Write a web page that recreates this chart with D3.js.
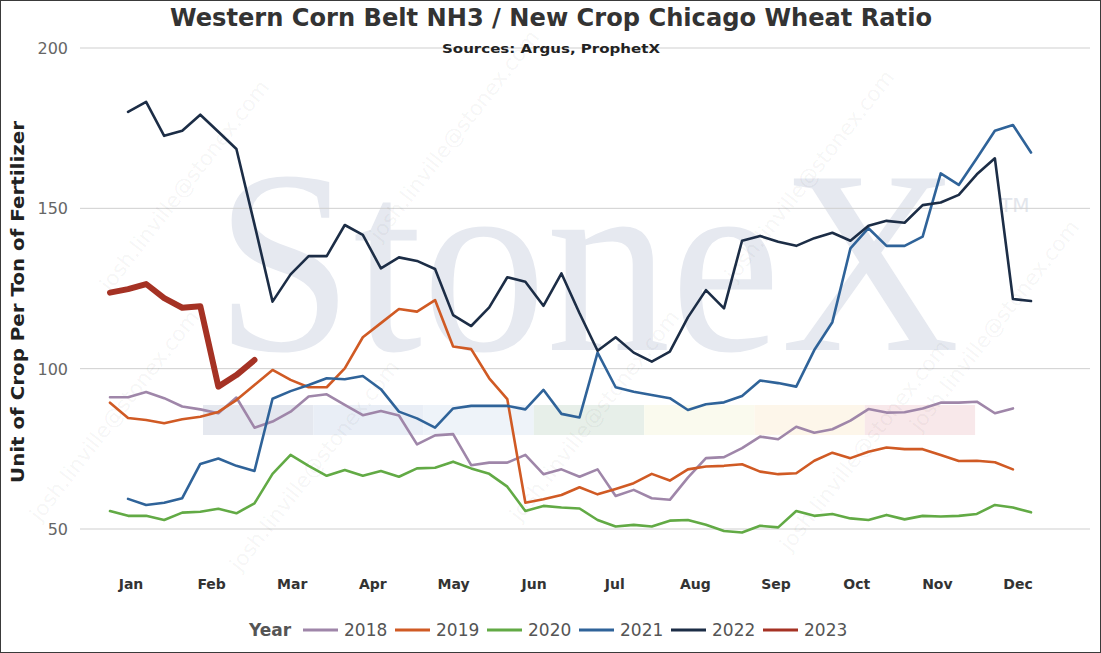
<!DOCTYPE html>
<html lang="en">
<head>
<meta charset="UTF-8">
<title>Western Corn Belt NH3 / New Crop Chicago Wheat Ratio</title>
<script src="https://d3js.org/d3.v7.min.js"></script>
<style>
  body { margin: 0; background: #fff; }
  svg { display: block; font-family: "DejaVu Sans", Verdana, sans-serif; }
</style>
</head>
<body>
<div id="chart"></div>
<script>
// axis labels
const months = ["Jan", "Feb", "Mar", "Apr", "May", "Jun", "Jul", "Aug", "Sep", "Oct", "Nov", "Dec"];
const yTicks = [50, 100, 150, 200];
const years = ["2018", "2019", "2020", "2021", "2022", "2023"];

// weekly ratio, one value per week; firstWeek says which week the array starts on
const firstWeek = [0, 0, 0, 1, 1, 0];
const v2018 = [91.1, 91.1, 92.7, 90.8, 88.2, 87.3, 86.1, 91.0, 81.6, 83.5,
  86.6, 91.3, 92.0, 88.7, 85.5, 86.8, 85.4, 76.4, 79.2, 79.6,
  69.9, 70.7, 70.7, 73.1, 67.1, 68.6, 66.3, 68.6, 60.3, 62.2,
  59.6, 59.1, 66.0, 72.1, 72.4, 75.2, 78.8, 78.0, 81.9, 80.0,
  81.1, 83.8, 87.4, 86.3, 86.4, 87.6, 89.4, 89.4, 89.7, 86.1, 87.6];
const v2019 = [89.4, 84.6, 84.0, 83.0, 84.2, 85.0, 86.5, 90.2, 94.9, 99.6,
  96.5, 94.2, 94.2, 100.1, 109.8, 114.2, 118.6, 117.8, 121.4, 106.9,
  106.1, 97.0, 90.5, 58.2, 59.3, 60.6, 63.0, 60.8, 62.5, 64.3,
  67.2, 65.1, 68.6, 69.5, 69.7, 70.2, 67.9, 67.1, 67.4, 71.3,
  73.8, 72.1, 74.1, 75.4, 74.9, 74.9, 73.1, 71.2, 71.3, 70.8, 68.6];
const v2020 = [55.6, 54.1, 54.1, 52.8, 55.1, 55.4, 56.3, 54.9, 58.0, 67.2,
  73.1, 69.7, 66.6, 68.4, 66.6, 68.1, 66.3, 68.9, 69.1, 71.0,
  68.9, 67.2, 63.2, 55.6, 57.2, 56.7, 56.4, 52.8, 50.8, 51.3,
  50.8, 52.6, 52.8, 51.3, 49.4, 48.9, 51.0, 50.5, 55.6, 54.1,
  54.7, 53.3, 52.8, 54.4, 53.0, 54.1, 53.9, 54.1, 54.7, 57.5, 56.7, 55.2];
const v2021 = [59.4, 57.5, 58.2, 59.6, 70.3, 72.0, 69.7, 68.1, 90.6, 93.0,
  94.9, 97.0, 96.7, 97.7, 93.6, 86.6, 84.5, 81.6, 87.6, 88.4,
  88.4, 88.4, 87.3, 93.4, 85.9, 84.8, 105.0, 94.2, 92.8, 91.8,
  90.8, 87.1, 88.9, 89.5, 91.5, 96.3, 95.5, 94.4, 105.8, 114.5,
  137.5, 143.8, 138.3, 138.3, 141.2, 160.9, 157.3, 165.6, 174.2, 176.0, 167.4];
const v2022 = [180.1, 183.2, 172.6, 174.2, 179.2, 173.9, 168.5, 145.0, 120.9, 129.4,
  135.1, 135.1, 144.8, 141.7, 131.3, 134.7, 133.6, 131.1, 116.7, 113.3,
  119.1, 128.5, 127.1, 119.6, 129.7, 117.3, 105.6, 109.8, 105.0, 102.2,
  105.3, 116.0, 124.5, 118.8, 139.9, 141.4, 139.6, 138.3, 140.7, 142.4,
  139.9, 144.6, 146.1, 145.5, 151.0, 151.8, 154.2, 160.6, 165.6, 121.7, 121.1];
const v2023 = [123.7, 124.8, 126.4, 122.0, 119.0, 119.5, 94.4, 98.0, 102.7];

const colors = ["#9f86a9", "#d05a24", "#62aa45", "#2f6399", "#1c2d46", "#a53224"];

const series = [v2018, v2019, v2020, v2021, v2022, v2023].map((vals, k) => ({
    year: years[k],
    color: colors[k],
    width: years[k] === "2023" ? 6 : 2.6,
    points: vals.map((v, i) => ({ week: firstWeek[k] + i, value: v }))
}));

const width = 1101;
const height = 653;

const svg = d3.select("#chart")
    .append("svg")
    .attr("width", width)
    .attr("height", height);

svg.append("rect")
    .attr("x", 0.5).attr("y", 0.5)
    .attr("width", width - 1).attr("height", height - 1)
    .attr("fill", "#fff")
    .attr("stroke", "#3a3a3a");

const x = d3.scaleLinear().domain([0, 51]).range([110, 1031]);
const y = d3.scaleLinear().domain([50, 200]).range([529, 48]);
const xMonth = d3.scalePoint().domain(months).range([131, 1018]);

// StoneX logo watermark behind the plot
const logo = svg.append("g");
logo.append("text")
    .attr("x", 215).attr("y", 350)
    .attr("font-family", "'Liberation Serif', serif")
    .attr("font-size", 262)
    .attr("textLength", 745)
    .attr("lengthAdjust", "spacingAndGlyphs")
    .attr("fill", "#e6e9f0")
    .text("StoneX");
logo.append("text")
    .attr("x", 1000).attr("y", 212)
    .attr("font-size", 20)
    .attr("fill", "#e3e6ec")
    .text("TM");
const bandColors = ["#e5e8ef", "#e9eef6", "#eef3f9", "#e7efe9", "#fafaee", "#fdf6ea", "#f8e8ea"];
logo.selectAll("rect.band")
    .data(bandColors)
    .enter()
    .append("rect")
    .attr("class", "band")
    .attr("x", (d, i) => 203 + i * 110.3)
    .attr("y", 405)
    .attr("width", 110.3)
    .attr("height", 30)
    .attr("fill", d => d);

// grid + y labels
svg.append("g")
    .selectAll("line")
    .data(yTicks)
    .enter()
    .append("line")
    .attr("x1", 80).attr("x2", 1090)
    .attr("y1", d => y(d)).attr("y2", d => y(d))
    .attr("stroke", "#cfcfcf")
    .attr("stroke-width", 1);

svg.append("g")
    .selectAll("text")
    .data(yTicks)
    .enter()
    .append("text")
    .attr("x", 68)
    .attr("y", d => y(d) + 6)
    .attr("text-anchor", "end")
    .attr("font-size", 16)
    .attr("fill", "#666")
    .text(d => d);

svg.append("g")
    .selectAll("text")
    .data(months)
    .enter()
    .append("text")
    .attr("x", d => xMonth(d))
    .attr("y", 589)
    .attr("text-anchor", "middle")
    .attr("font-size", 14)
    .attr("font-weight", "bold")
    .attr("fill", "#333")
    .text(d => d);

// faint e-mail watermark (under the lines)
const stamp = svg.append("g")
    .attr("fill", "#000")
    .attr("fill-opacity", 0.05)
    .attr("font-size", 21);
const stampSpots = [[190, 190], [460, 140], [815, 180], [1000, 330],
                    [320, 470], [600, 420], [870, 450], [120, 420]];
stamp.selectAll("text")
    .data(stampSpots)
    .enter()
    .append("text")
    .attr("transform", d => `translate(${d[0]},${d[1]}) rotate(-52)`)
    .attr("text-anchor", "middle")
    .text("josh.linville@stonex.com");

// lines
const line = d3.line()
    .x(d => x(d.week))
    .y(d => y(d.value));

svg.append("g")
    .selectAll("path")
    .data(series)
    .enter()
    .append("path")
    .attr("d", d => line(d.points))
    .attr("fill", "none")
    .attr("stroke", d => d.color)
    .attr("stroke-width", d => d.width)
    .attr("stroke-linejoin", "round")
    .attr("stroke-linecap", "round");

// titles
svg.append("text")
    .attr("x", 551).attr("y", 26)
    .attr("text-anchor", "middle")
    .attr("font-size", 24)
    .attr("font-weight", "bold")
    .attr("fill", "#333")
    .attr("textLength", 762)
    .attr("lengthAdjust", "spacingAndGlyphs")
    .text("Western Corn Belt NH3 / New Crop Chicago Wheat Ratio");

svg.append("text")
    .attr("x", 551).attr("y", 53)
    .attr("text-anchor", "middle")
    .attr("font-size", 13)
    .attr("font-weight", "bold")
    .attr("fill", "#222")
    .attr("textLength", 218)
    .attr("lengthAdjust", "spacingAndGlyphs")
    .text("Sources: Argus, ProphetX");

svg.append("text")
    .attr("transform", "translate(24,302) rotate(-90)")
    .attr("text-anchor", "middle")
    .attr("font-size", 18)
    .attr("font-weight", "bold")
    .attr("fill", "#222")
    .attr("textLength", 362)
    .attr("lengthAdjust", "spacingAndGlyphs")
    .text("Unit of Crop Per Ton of Fertilizer");

// legend
const legend = svg.append("g");
legend.append("text")
    .attr("x", 249).attr("y", 636)
    .attr("font-size", 17)
    .attr("font-weight", "bold")
    .attr("fill", "#555")
    .text("Year");

const item = legend.selectAll("g.item")
    .data(series)
    .enter()
    .append("g")
    .attr("class", "item")
    .attr("transform", (d, i) => `translate(${303 + i * 92},630)`);
item.append("line")
    .attr("x1", 0).attr("x2", 35)
    .attr("stroke", d => d.color)
    .attr("stroke-width", 3);
item.append("text")
    .attr("x", 41).attr("y", 6)
    .attr("font-size", 17)
    .attr("fill", "#555")
    .text(d => d.year);
</script>
</body>
</html>
